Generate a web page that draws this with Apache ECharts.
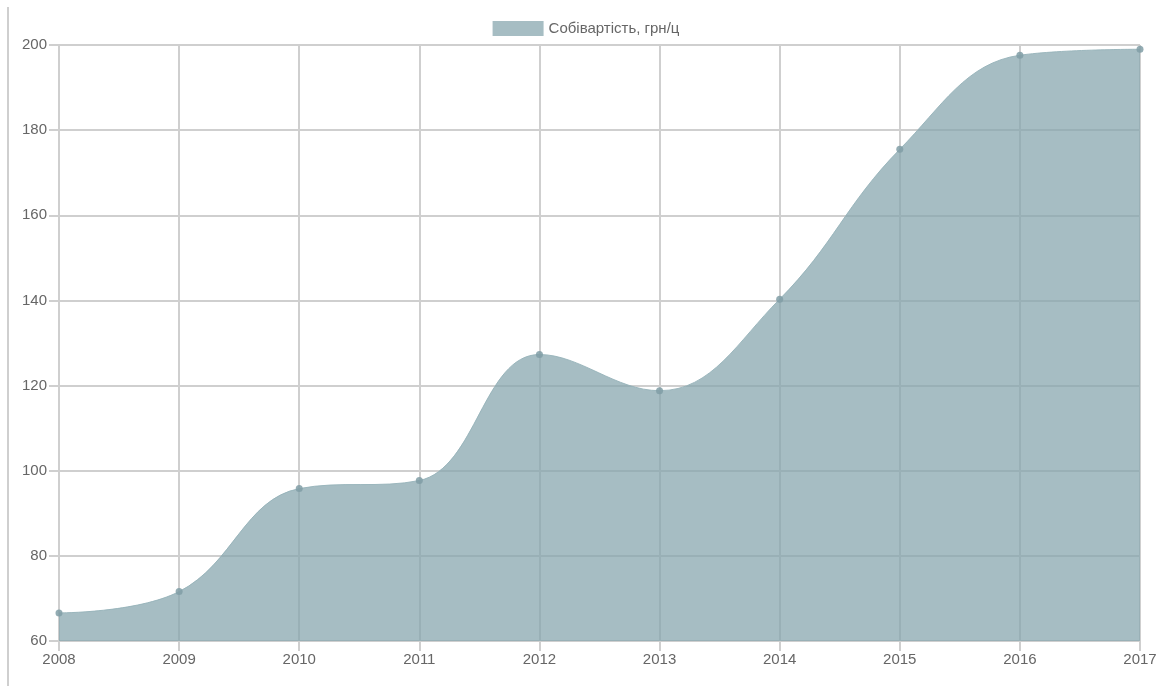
<!DOCTYPE html>
<html>
<head>
<meta charset="utf-8">
<script src="https://cdn.jsdelivr.net/npm/echarts@6/dist/echarts.min.js"></script>
<style>
  html, body { margin: 0; padding: 0; background: #fff; }
  #chart { width: 1172px; height: 686px; }
</style>
</head>
<body>
<div id="chart"></div>
<script>
// Собівартість продукції по роках, грн/ц
const years = ['2008', '2009', '2010', '2011', '2012', '2013', '2014', '2015', '2016', '2017'];
const costValues = [66.6, 71.6, 95.8, 97.7, 127.3, 118.8, 140.3, 175.5, 197.6, 199.0];
const seriesName = 'Собівартість, грн/ц';
const yTicks = { min: 60, max: 200, step: 20 };

const labelFont = { color: '#666', fontSize: 15, fontFamily: '"Liberation Sans", Arial, sans-serif' };
const gridColor = '#cfcfcf';
const areaFill = 'rgba(133,165,173,0.73)';

const chart = echarts.init(document.getElementById('chart'), null, { renderer: 'canvas' });
chart.setOption({
  animation: false,
  backgroundColor: '#fff',
  legend: {
    top: 16,
    left: 'center',
    itemWidth: 51,
    itemHeight: 15,
    icon: 'rect',
    textStyle: labelFont,
    itemStyle: { color: '#a6bdc3' },
    data: [seriesName]
  },
  grid: { left: 59, right: 32, top: 45, bottom: 45 },
  xAxis: {
    type: 'category',
    data: years,
    boundaryGap: false,
    axisLine: { show: true, lineStyle: { color: gridColor, width: 2 } },
    axisTick: { show: true, length: 10, alignWithLabel: true, lineStyle: { color: gridColor, width: 2 } },
    axisLabel: Object.assign({ margin: 11 }, labelFont),
    splitLine: { show: true, lineStyle: { color: gridColor, width: 2 } }
  },
  yAxis: {
    type: 'value',
    min: yTicks.min,
    max: yTicks.max,
    interval: yTicks.step,
    axisLine: { show: true, lineStyle: { color: gridColor, width: 2 } },
    axisTick: { show: true, length: 10, lineStyle: { color: gridColor, width: 2 } },
    axisLabel: Object.assign({ margin: 12 }, labelFont),
    splitLine: { show: true, lineStyle: { color: gridColor, width: 2 } }
  },
  graphic: [{
    type: 'line',
    shape: { x1: 8, y1: 7, x2: 8, y2: 686 },
    style: { stroke: '#cfcfcf', lineWidth: 2 },
    silent: true
  }],
  series: [{
    name: seriesName,
    type: 'line',
    data: costValues,
    smooth: 0.4,
    symbol: 'circle',
    symbolSize: 7,
    showSymbol: true,
    itemStyle: { color: 'rgba(128,158,166,0.85)' },
    lineStyle: { width: 1, color: 'rgba(150,178,185,0.9)' },
    areaStyle: { color: areaFill, opacity: 1 },
    z: 2
  }]
});
</script>
</body>
</html>
